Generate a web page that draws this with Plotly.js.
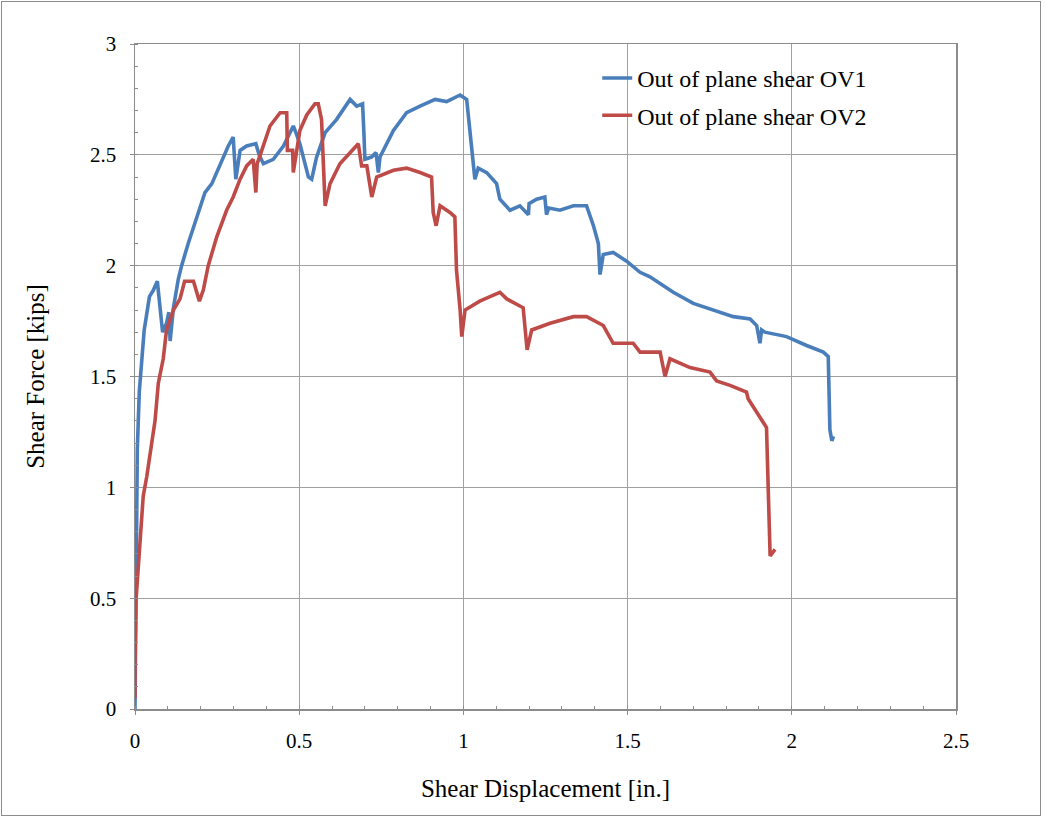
<!DOCTYPE html>
<html>
<head>
<meta charset="utf-8">
<script src="https://cdn.plot.ly/plotly-3.0.1.min.js"></script>
<style>
html,body{margin:0;padding:0;background:#fff;}
#wrap{position:relative;width:1046px;height:819px;}
#chart{width:1046px;height:819px;}
#frame{position:absolute;left:1px;top:1px;width:1040px;height:815px;border:1.5px solid #8c8c8c;pointer-events:none;box-sizing:border-box;}
</style>
</head>
<body>
<div id="wrap"><div id="chart"></div><div id="frame"></div></div>
<script>
const seriesNames = ["Out of plane shear OV1", "Out of plane shear OV2"];
const xTickVals = [0, 0.5, 1, 1.5, 2, 2.5];
const xTickText = ["0", "0.5", "1", "1.5", "2", "2.5"];
const yTickVals = [0, 0.5, 1, 1.5, 2, 2.5, 3];
const yTickText = ["0", "0.5", "1", "1.5", "2", "2.5", "3"];

const ov1X = [0,0.002,0.005,0.007,0.013,0.02,0.028,0.044,0.056,0.068,0.084,0.096,0.103,0.107,0.117,0.132,0.142,0.162,0.188,0.213,0.234,0.259,0.284,0.299,0.307,0.320,0.34,0.368,0.378,0.391,0.421,0.452,0.482,0.49,0.502,0.528,0.538,0.553,0.579,0.614,0.655,0.675,0.693,0.697,0.70,0.72,0.734,0.741,0.746,0.787,0.827,0.868,0.914,0.949,0.990,1.01,1.025,1.035,1.045,1.071,1.101,1.111,1.142,1.172,1.198,1.20,1.223,1.248,1.253,1.26,1.294,1.335,1.375,1.396,1.411,1.416,1.426,1.456,1.497,1.538,1.568,1.639,1.70,1.761,1.822,1.873,1.893,1.903,1.908,1.918,1.984,2.045,2.096,2.111,2.116,2.122,2.127];
const ov1Y = [0,0.5,1.10,1.17,1.43,1.57,1.71,1.86,1.89,1.93,1.70,1.74,1.79,1.66,1.81,1.94,2.0,2.10,2.22,2.33,2.37,2.46,2.54,2.58,2.39,2.52,2.54,2.55,2.50,2.46,2.48,2.54,2.63,2.60,2.55,2.40,2.39,2.49,2.60,2.66,2.75,2.72,2.73,2.60,2.48,2.49,2.51,2.42,2.49,2.61,2.69,2.72,2.75,2.74,2.77,2.75,2.54,2.39,2.44,2.42,2.37,2.30,2.25,2.27,2.23,2.28,2.30,2.31,2.23,2.26,2.25,2.27,2.27,2.18,2.10,1.96,2.05,2.06,2.02,1.97,1.95,1.88,1.83,1.80,1.77,1.76,1.73,1.65,1.71,1.70,1.68,1.64,1.61,1.59,1.26,1.21,1.23];

const ov2X = [0,0,0.003,0.01,0.015,0.025,0.036,0.051,0.061,0.071,0.086,0.096,0.117,0.137,0.151,0.178,0.196,0.208,0.223,0.249,0.279,0.299,0.32,0.34,0.36,0.368,0.372,0.386,0.411,0.442,0.462,0.464,0.48,0.482,0.502,0.523,0.548,0.558,0.568,0.579,0.594,0.624,0.655,0.68,0.69,0.706,0.721,0.736,0.787,0.827,0.868,0.903,0.908,0.917,0.929,0.959,0.974,0.979,0.99,0.995,1.005,1.05,1.081,1.111,1.132,1.182,1.194,1.208,1.264,1.335,1.375,1.426,1.456,1.517,1.538,1.599,1.614,1.629,1.69,1.751,1.771,1.812,1.862,1.867,1.923,1.934,1.949];
const ov2Y = [0.05,0.22,0.49,0.64,0.78,0.96,1.05,1.21,1.30,1.47,1.58,1.71,1.80,1.85,1.93,1.93,1.84,1.89,2.0,2.13,2.25,2.31,2.39,2.45,2.48,2.33,2.46,2.52,2.63,2.69,2.69,2.52,2.52,2.42,2.61,2.68,2.73,2.73,2.66,2.27,2.37,2.46,2.51,2.55,2.45,2.45,2.31,2.40,2.43,2.44,2.42,2.40,2.24,2.18,2.27,2.24,2.22,1.98,1.80,1.68,1.80,1.84,1.86,1.88,1.85,1.81,1.62,1.71,1.74,1.77,1.77,1.73,1.65,1.65,1.61,1.61,1.50,1.58,1.54,1.52,1.48,1.46,1.43,1.40,1.27,0.69,0.72];

const serif = "Liberation Serif";

const traces = [
  {x: ov1X, y: ov1Y, name: seriesNames[0], legendgroup: 'a', type: 'scatter', mode: 'lines',
   line: {color: '#4a7ebb', width: 3.6}},
  {x: ov2X, y: ov2Y, name: seriesNames[1], legendgroup: 'b', type: 'scatter', mode: 'lines',
   line: {color: '#be4b48', width: 3.6}}
];

const axisCommon = {
  showgrid: true, gridcolor: '#a0a0a0', gridwidth: 1,
  showline: true, linecolor: '#8c8c8c', linewidth: 1.5, mirror: true,
  zeroline: false,
  ticks: 'outside', ticklen: 4, tickcolor: '#8c8c8c', tickwidth: 1,
  tickfont: {family: serif, size: 21, color: '#000'},
  minor: {dtick: 0.1, ticks: 'inside', ticklen: 3, tickcolor: '#8c8c8c', showgrid: false}
};

const layout = {
  width: 1046, height: 819,
  margin: {l: 135, r: 90, t: 44, b: 110},
  paper_bgcolor: '#fff', plot_bgcolor: '#fff',
  font: {family: serif, color: '#000'},
  showlegend: true,
  legend: {x: 0.563, y: 0.982, xanchor: 'left', yanchor: 'top',
           bgcolor: 'rgba(0,0,0,0)', borderwidth: 0, tracegroupgap: 3,
           font: {family: serif, size: 24, color: '#000'}},
  xaxis: Object.assign({}, axisCommon, {
    range: [0, 2.5], tickvals: xTickVals, ticktext: xTickText, ticklabelstandoff: 8,
    title: {text: 'Shear Displacement [in.]', font: {family: serif, size: 25, color: '#000'}, standoff: 28}
  }),
  yaxis: Object.assign({}, axisCommon, {
    range: [0, 3], tickvals: yTickVals, ticktext: yTickText, ticklabelstandoff: 9,
    title: {text: 'Shear Force [kips]', font: {family: serif, size: 25, color: '#000'}, standoff: 38}
  })
};

Plotly.newPlot('chart', traces, layout, {displayModeBar: false, staticPlot: true});
</script>
</body>
</html>
